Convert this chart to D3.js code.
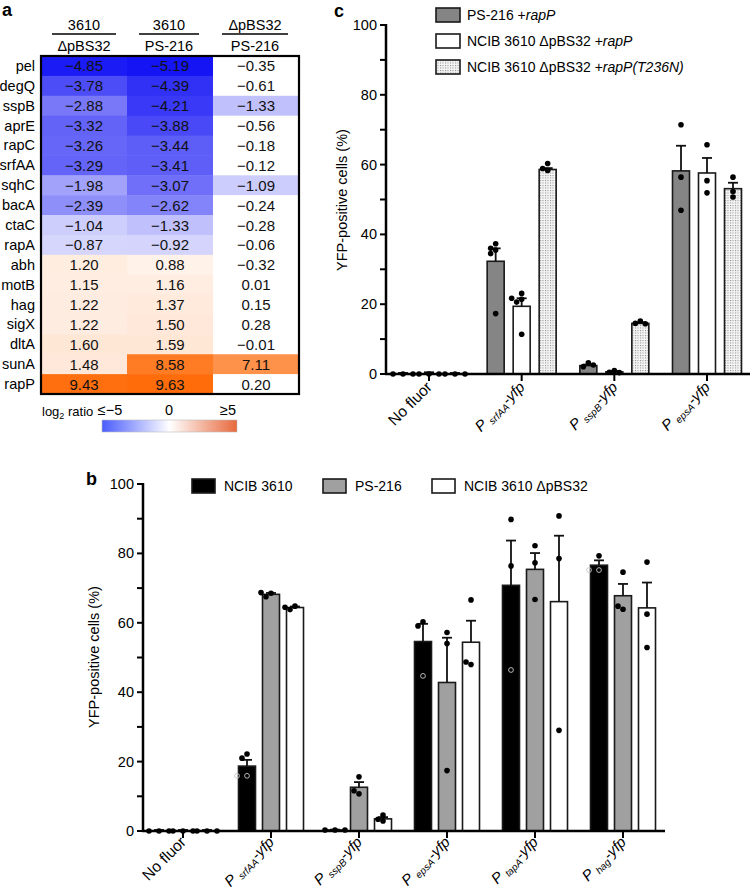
<!DOCTYPE html>
<html><head><meta charset="utf-8">
<script src="https://cdn.jsdelivr.net/npm/d3@7/dist/d3.min.js"></script>
<style>body{margin:0;background:#fff}svg{font-family:"Liberation Sans",Arial,Helvetica,sans-serif}</style>
</head><body>
<svg id="fig" width="750" height="891"></svg>
<script>
// ---------- Panel a data ----------
const genes = ["pel","degQ","sspB","aprE","rapC","srfAA","sqhC","bacA","ctaC","rapA","abh","motB","hag","sigX","dltA","sunA","rapP"];
const heatCols = [["3610","ΔpBS32"],["3610","PS-216"],["ΔpBS32","PS-216"]];
const col1 = [-4.85,-3.78,-2.88,-3.32,-3.26,-3.29,-1.98,-2.39,-1.04,-0.87,1.20,1.15,1.22,1.22,1.60,1.48,9.43];
const col2 = [-5.19,-4.39,-4.21,-3.88,-3.44,-3.41,-3.07,-2.62,-1.33,-0.92,0.88,1.16,1.37,1.50,1.59,8.58,9.63];
const col3 = [-0.35,-0.61,-1.33,-0.56,-0.18,-0.12,-1.09,-0.24,-0.28,-0.06,-0.32,0.01,0.15,0.28,-0.01,7.11,0.20];
const sig3 = [0,0,1,0,0,0,1,0,0,0,0,0,0,0,0,1,0];
const legendTicks = ["≤−5","0","≥5"];

// ---------- Panel c data ----------
const cGroups = ["No fluor","srfAA","sspB","epsA"];
const cSeries = ["PS-216 +rapP","NCIB 3610 ΔpBS32 +rapP","NCIB 3610 ΔpBS32 +rapP(T236N)"];
const cMeans = [[0.2,0.2,0.2],[32.3,19.4,58.6],[2.4,0.6,14.5],[58.2,57.6,53.1]];
const cErr   = [[0.1,0.3,0.1],[3.7,2.3,0.4],[0.3,0.2,0.3],[7.2,4.3,1.7]];
const cDots  = [
  [[0,0,0],[0,0,0],[0,0,0]],
  [[37.3,36.0,35.5,34.5,17.3],[23.1,21.4,21.7,20.6,11.4],[60.3,58.9,58.3]],
  [[3.2,2.1,2.6],[1.0,0.5,0.4],[15.2,14.5,14.4]],
  [[71.4,56.4,46.9],[65.7,55.4,51.9],[56.4,52.3,50.7]]
];

// ---------- Panel b data ----------
const bGroups = ["No fluor","srfAA","sspB","epsA","tapA","hag"];
const bSeries = ["NCIB 3610","PS-216","NCIB 3610 ΔpBS32"];
const bMeans = [[0.2,0.2,0.2],[18.7,68.2,64.4],[0.3,12.6,3.5],[54.6,42.8,54.4],[70.8,75.4,66.1],[76.6,67.8,64.3]];
const bErr   = [[0.1,0.1,0.1],[1.8,0.4,0.3],[0.1,1.5,0.5],[5.1,12.9,6.2],[12.9,4.7,19.0],[1.4,3.4,7.3]];
const bDots  = [
  [[0,0,0],[0,0,0],[0,0,0]],
  [[22.2,21.0],[68.5,68.7,67.5],[64.8,64.5,63.8]],
  [[0.3,0.3,0.3],[15.6,10.7,11.6],[4.6,2.9,3.4]],
  [[60.3,59.1],[57.2,54.0,17.4],[66.6,48.0,48.7]],
  [[89.8,76.4],[82.2,77.3,66.7],[90.8,78.5,29.0]],
  [[79.3],[74.6,63.9,64.8],[77.5,62.5,52.9]]
];
const bOpen = [[],[15.9,15.9],[],[44.7],[46.4],[75.2,75.2]]; // open circles in NCIB 3610 bars
const yTicks = [0,20,40,60,80,100];
const yMinor = [10,30,50,70,90];

const svg = d3.select("#fig");
const defs = svg.append("defs");
const pat = defs.append("pattern").attr("id","dots").attr("patternUnits","userSpaceOnUse").attr("width",2.5).attr("height",2.5);
pat.append("rect").attr("width",2.5).attr("height",2.5).attr("fill","#f4f4f4");
pat.append("rect").attr("width",1).attr("height",1).attr("fill","#8a8a8a");

// ================= Panel a =================
const A = {left:41, right:299, top:56, bottom:394};
const xa = d3.scaleBand().domain([0,1,2]).range([A.left,A.right]);
const ya = d3.scaleBand().domain(genes).range([A.top,A.bottom]);
const blueEnd = d3.rgb(20,20,245), orangeEnd = d3.rgb(255,102,0);
const negScale = d3.scaleLinear().domain([-5,0]).range([blueEnd,"#ffffff"]).interpolate(d3.interpolateRgb).clamp(true);
const posScale = d3.scaleLinear().domain([0,10]).range(["#ffffff",orangeEnd]).interpolate(d3.interpolateRgb).clamp(true);
const colorOf = v => v<0 ? negScale(v) : posScale(v);
const ga = svg.append("g");
ga.append("text").attr("x",2).attr("y",16).attr("font-weight","bold").attr("font-size",18).text("a");
const cols = [col1,col2,col3];
const sigs = [genes.map(()=>1),genes.map(()=>1),sig3];
const headHalf = [32,30,33];
cols.forEach((col,ci)=>{
  ga.selectAll(null).data(col).enter().append("rect")
    .attr("x",xa(ci)).attr("y",(d,i)=>ya(genes[i])).attr("width",xa.bandwidth()+0.5).attr("height",ya.bandwidth()+0.5)
    .attr("fill",(d,i)=>sigs[ci][i]?colorOf(d):"#ffffff");
  ga.selectAll(null).data(col).enter().append("text")
    .attr("x",xa(ci)+xa.bandwidth()/2).attr("y",(d,i)=>ya(genes[i])+ya.bandwidth()/2+5.5)
    .attr("text-anchor","middle").attr("font-size",15).attr("fill","#111")
    .text(d=>d<0?"−"+Math.abs(d).toFixed(2):d.toFixed(2));
  const cx = xa(ci)+xa.bandwidth()/2 + [0,-1,-1][ci];
  ga.append("text").attr("x",cx).attr("y",30).attr("text-anchor","middle").attr("font-size",14.5).text(heatCols[ci][0]);
  ga.append("text").attr("x",cx).attr("y",51).attr("text-anchor","middle").attr("font-size",14.5).text(heatCols[ci][1]);
  ga.append("line").attr("x1",cx-headHalf[ci]).attr("x2",cx+headHalf[ci]).attr("y1",34).attr("y2",34).attr("stroke","#000").attr("stroke-width",1.3);
});
ga.append("rect").attr("x",A.left).attr("y",A.top).attr("width",A.right-A.left).attr("height",A.bottom-A.top)
  .attr("fill","none").attr("stroke","#000").attr("stroke-width",2.2);
ga.selectAll(null).data(genes).enter().append("text")
  .attr("x",35).attr("y",d=>ya(d)+ya.bandwidth()/2+5).attr("text-anchor","end").attr("font-size",14.5).text(d=>d);
// colour legend
const lg = defs.append("linearGradient").attr("id","hgrad");
[[0,"#4a5cff"],[0.5,"#ffffff"],[1,"#e8683c"]].forEach(s=>lg.append("stop").attr("offset",s[0]).attr("stop-color",s[1]));
const xl = d3.scaleLinear().domain([-5,5]).range([110,228]);
ga.append("rect").attr("x",102).attr("y",420).attr("width",135).attr("height",12).attr("fill","url(#hgrad)").attr("stroke","#bbb").attr("stroke-width",0.6);
const lt = ga.append("text").attr("x",42).attr("y",416).attr("font-size",13);
lt.append("tspan").text("log");
lt.append("tspan").attr("font-size",9).attr("dy",3).text("2");
lt.append("tspan").attr("dy",-3).text(" ratio");
ga.selectAll(null).data(legendTicks).enter().append("text")
  .attr("x",(d,i)=>xl([-5,0,5][i])).attr("y",415).attr("text-anchor","middle").attr("font-size",14.5).text(d=>d);

// ================= helpers =================
function yAxis(g, y, x0, labelX, labelY) {
  g.append("line").attr("x1",x0).attr("x2",x0).attr("y1",y(100)-1).attr("y2",y(0)+1).attr("stroke","#000").attr("stroke-width",2.5);
  yTicks.concat(yMinor).forEach(t=>{
    g.append("line").attr("x1",x0-6).attr("x2",x0).attr("y1",y(t)).attr("y2",y(t)).attr("stroke","#000").attr("stroke-width",2);
  });
  g.selectAll(null).data(yTicks).enter().append("text").attr("x",x0-9).attr("y",t=>y(t)+5)
    .attr("text-anchor","end").attr("font-size",14.5).text(t=>t);
  g.append("text").attr("transform",`translate(${labelX},${labelY}) rotate(-90)`).attr("text-anchor","middle")
    .attr("font-size",14.5).text("YFP-positive cells (%)");
}
function xLabel(g, name, x, y) {
  const t = g.append("text").attr("transform",`translate(${x},${y}) rotate(-45)`).attr("text-anchor","end").attr("font-size",15);
  if (name === "No fluor") { t.attr("font-size",15.5).text(name); return; }
  t.append("tspan").attr("font-style","italic").text("P ");
  t.append("tspan").attr("font-style","italic").attr("font-size",10).attr("dy",3).text(name);
  t.append("tspan").attr("font-style","italic").attr("dy",-3).text("-yfp");
}
function placeDots(vals, cx, y) {
  const placed = [];
  return vals.map(v=>{
    const py = y(v);
    const offs = [0,-5,5,-10,10];
    let px = cx;
    for (const o of offs) {
      if (!placed.some(p=>Math.hypot(p[0]-(cx+o),p[1]-py)<5.2)) { px = cx+o; break; }
    }
    placed.push([px,py]);
    return [px,py];
  });
}
function drawBars(g, groups, means, errs, dots, x0s, off, barW, y, fills, openDots) {
  groups.forEach((gname,gi)=>{
    const c = x0s(gname);
    means[gi].forEach((m,si)=>{
      const cx = c + (si-1)*off;
      const h = y(0)-y(m);
      if (h>0.8) {
        g.append("rect").attr("x",cx-barW/2).attr("y",y(m)).attr("width",barW).attr("height",h)
          .attr("fill",fills[si]).attr("stroke","#1a1a1a").attr("stroke-width",1.6);
      }
      const et = y(m+errs[gi][si]);
      g.append("line").attr("x1",cx).attr("x2",cx).attr("y1",y(m)).attr("y2",et).attr("stroke","#111").attr("stroke-width",1.8);
      g.append("line").attr("x1",cx-5).attr("x2",cx+5).attr("y1",et).attr("y2",et).attr("stroke","#111").attr("stroke-width",1.8);
      const allVals = dots[gi][si].concat(si===0 && openDots ? openDots[gi] : []);
      const pts = placeDots(allVals, cx, y);
      pts.forEach((p,k)=>{
        const isOpen = k >= dots[gi][si].length;
        g.append("circle").attr("cx",p[0]).attr("cy",p[1]).attr("r",isOpen?2.4:2.8)
          .attr("fill",isOpen?"none":"#000").attr("stroke",isOpen?"#c8c8c8":"none").attr("stroke-width",0.9);
      });
    });
  });
}

// ================= Panel c =================
const gc = svg.append("g");
gc.append("text").attr("x",334).attr("y",17).attr("font-weight","bold").attr("font-size",18).text("c");
const yc = d3.scaleLinear().domain([0,100]).range([374,25]);
const xc = d3.scalePoint().domain(cGroups).range([429,707]);
yAxis(gc, yc, 386, 347, 200);
drawBars(gc, cGroups, cMeans, cErr, cDots, xc, 26, 17, yc, ["#858585","#ffffff","url(#dots)"], null);
gc.append("line").attr("x1",385).attr("x2",750).attr("y1",374).attr("y2",374).attr("stroke","#000").attr("stroke-width",2.5);
cGroups.forEach(gn=>{
  gc.append("line").attr("x1",xc(gn)).attr("x2",xc(gn)).attr("y1",374).attr("y2",381).attr("stroke","#000").attr("stroke-width",2);
  xLabel(gc, gn, xc(gn)+4, 388);
});
const cFill = ["#858585","#ffffff","url(#dots)"];
cSeries.forEach((s,i)=>{
  const yy = 8 + i*26;
  gc.append("rect").attr("x",436).attr("y",yy).attr("width",24).attr("height",14).attr("fill",cFill[i]).attr("stroke","#1a1a1a").attr("stroke-width",1.6);
  const t = gc.append("text").attr("x",467).attr("y",yy+12).attr("font-size",14);
  const m = s.match(/^(.*\+)(.*)$/);
  t.append("tspan").text(m[1]);
  t.append("tspan").attr("font-style","italic").text(m[2]);
});

// ================= Panel b =================
const gb = svg.append("g");
gb.append("text").attr("x",86).attr("y",485).attr("font-weight","bold").attr("font-size",18).text("b");
const yb = d3.scaleLinear().domain([0,100]).range([831,484]);
const xb = d3.scalePoint().domain(bGroups).range([183,623]);
yAxis(gb, yb, 143, 99, 657);
drawBars(gb, bGroups, bMeans, bErr, bDots, xb, 24, 17, yb, ["#000000","#a0a0a0","#ffffff"], bOpen);
gb.append("line").attr("x1",142).attr("x2",665).attr("y1",831).attr("y2",831).attr("stroke","#000").attr("stroke-width",2.5);
bGroups.forEach(gn=>{
  gb.append("line").attr("x1",xb(gn)).attr("x2",xb(gn)).attr("y1",831).attr("y2",838).attr("stroke","#000").attr("stroke-width",2);
  xLabel(gb, gn, xb(gn)+4, 843);
});
const bFill = ["#000000","#a0a0a0","#ffffff"];
const bLegX = [192,323,432];
bSeries.forEach((s,i)=>{
  gb.append("rect").attr("x",bLegX[i]).attr("y",479).attr("width",23).attr("height",14).attr("fill",bFill[i]).attr("stroke","#1a1a1a").attr("stroke-width",1.6);
  gb.append("text").attr("x",bLegX[i]+32).attr("y",491).attr("font-size",14).text(s);
});
</script>
</body></html>
